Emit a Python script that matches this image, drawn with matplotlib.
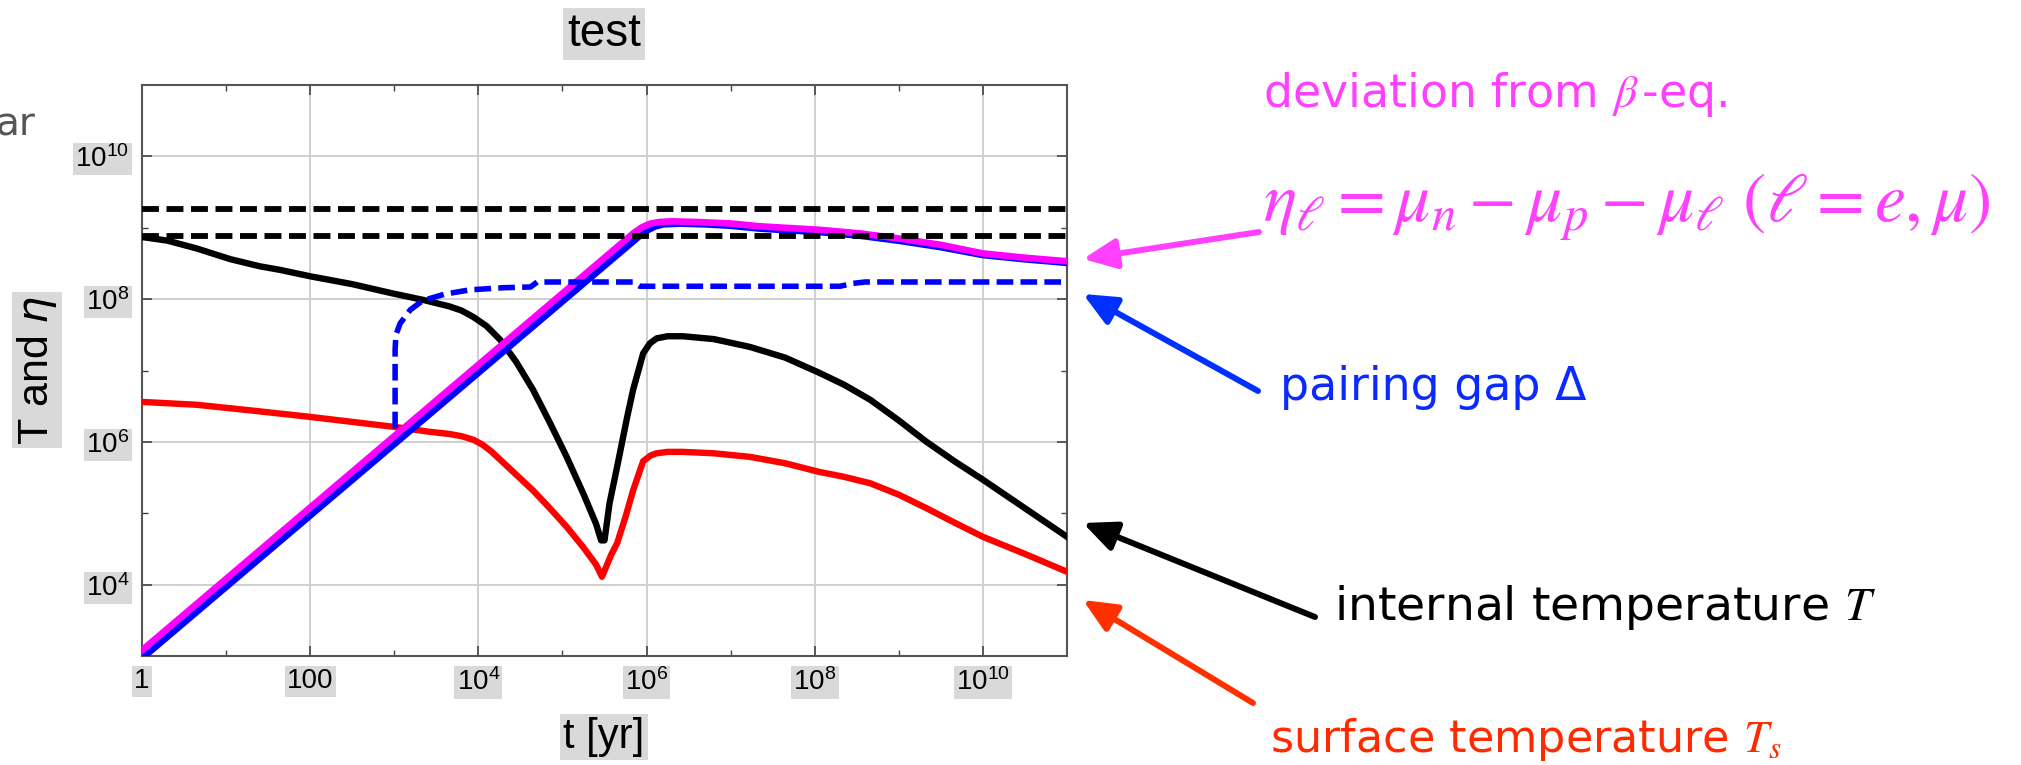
import matplotlib
matplotlib.use("Agg")
import matplotlib.pyplot as plt
import numpy as np

W, H = 2021, 765

# log10(t/yr) and log10(value)
logt_T = [0, 0.3, 0.65, 1.05, 1.4, 1.64, 2.0, 2.5, 2.98, 3.34, 3.65, 3.8, 3.94, 4.1, 4.26,
          4.45, 4.65, 4.85, 5.05, 5.25, 5.40, 5.46, 5.50, 5.56, 5.65, 5.77, 5.84, 5.96,
          6.04, 6.12, 6.25, 6.43, 6.8, 7.23, 7.65, 8.05, 8.35, 8.66, 9.0, 9.33, 9.66,
          10.0, 10.5, 11.0]
logT_int = [8.87, 8.82, 8.71, 8.56, 8.46, 8.41, 8.32, 8.21, 8.08, 7.99, 7.9, 7.84, 7.75, 7.62, 7.43,
            7.12, 6.73, 6.27, 5.79, 5.27, 4.85, 4.62, 4.62, 5.14, 5.65, 6.35, 6.73, 7.24,
            7.38, 7.45, 7.48, 7.48, 7.44, 7.33, 7.18, 6.97, 6.80, 6.59, 6.30, 6.0, 5.73,
            5.47, 5.07, 4.67]

logt_Ts = [0, 0.65, 1.3, 2.0, 2.5, 3.0, 3.43, 3.66, 3.8, 3.94, 4.05, 4.15, 4.26, 4.45, 4.65,
           4.85, 5.05, 5.25, 5.40, 5.47, 5.52, 5.58, 5.65, 5.75, 5.84, 5.96, 6.05, 6.12,
           6.25, 6.43, 6.8, 7.23, 7.65, 8.05, 8.35, 8.66, 9.0, 9.33, 9.66, 10.0, 10.5, 11.0]
logT_surf = [6.56, 6.52, 6.44, 6.35, 6.28, 6.21, 6.14, 6.11, 6.08, 6.03, 5.96, 5.87, 5.75, 5.54,
             5.32, 5.07, 4.81, 4.52, 4.28, 4.11, 4.25, 4.42, 4.58, 4.95, 5.32, 5.73, 5.81,
             5.84, 5.86, 5.86, 5.84, 5.79, 5.70, 5.58, 5.51, 5.42, 5.26, 5.07, 4.87, 4.67,
             4.43, 4.18]

logt_eta_e = [0, 5.85, 5.95, 6.05, 6.15, 6.3, 6.6, 7.0, 7.35, 8.07, 8.54, 9.0, 9.5, 10.0, 10.5, 11.0]
log_eta_e = [3.08, 8.93, 9.01, 9.06, 9.08, 9.09, 9.08, 9.06, 9.02, 8.97, 8.92, 8.85, 8.76, 8.64, 8.58, 8.53]

logt_eta_mu = [0, 5.9, 6.0, 6.1, 6.2, 6.4, 6.7, 7.0, 7.35, 8.07, 8.54, 9.0, 9.5, 10.0, 10.5, 11.0]
log_eta_mu = [2.97, 8.87, 8.96, 9.02, 9.05, 9.06, 9.05, 9.03, 8.99, 8.94, 8.89, 8.82, 8.73, 8.62, 8.56, 8.51]

logt_gap = [3.01, 3.01, 3.02, 3.07, 3.19, 3.34, 3.6, 3.9, 4.3, 4.62, 4.70, 5.84, 5.92,
            8.30, 8.45, 8.6, 11.0]
log_gap = [6.19, 7.3, 7.5, 7.66, 7.85, 7.98, 8.07, 8.13, 8.16, 8.17, 8.24, 8.24, 8.18,
           8.18, 8.22, 8.24, 8.24]

ref_levels = [1.85e9, 7.7e8]

xtick_pos = [1, 1e2, 1e4, 1e6, 1e8, 1e10]
xtick_lab = ["1", "100", r"$\mathdefault{10^{4}}$", r"$\mathdefault{10^{6}}$",
             r"$\mathdefault{10^{8}}$", r"$\mathdefault{10^{10}}$"]
xminor_pos = [10, 1e3, 1e5, 1e7, 1e9]
ytick_pos = [1e4, 1e6, 1e8, 1e10]
ytick_lab = [r"$\mathdefault{10^{4}}$", r"$\mathdefault{10^{6}}$",
             r"$\mathdefault{10^{8}}$", r"$\mathdefault{10^{10}}$"]
yminor_pos = [1e5, 1e7, 1e9]

GRAY_BOX = dict(boxstyle="square,pad=0.08", fc="#d9d9d9", ec="none")
TXT_FONT = ["DejaVu Sans"]

plt.rcParams["font.family"] = ["Liberation Sans", "DejaVu Sans"]

fig = plt.figure(figsize=(W / 100, H / 100), dpi=100)
ax = fig.add_axes([142 / W, 1 - 656 / H, (1067 - 142) / W, (656 - 85) / H])

p = lambda a: 10 ** np.asarray(a)
ax.plot(p(logt_Ts), p(logT_surf), color="#ff0000", lw=4.6, zorder=3)
ax.plot(p(logt_T), p(logT_int), color="black", lw=4.6, zorder=3)
ax.plot(p(logt_eta_mu), p(log_eta_mu), color="#0000ff", lw=5.0, zorder=4)
ax.plot(p(logt_eta_e), p(log_eta_e), color="#ff00ff", lw=4.8, zorder=5)
ax.plot(p(logt_gap), p(log_gap), color="#0000ff", lw=4.0, ls=(0, (3.0, 1.3)), zorder=6)
for lv in ref_levels:
    ax.axhline(lv, color="black", lw=4.2, ls=(0, (2.9, 1.3)), zorder=7)

ax.set_xscale("log")
ax.set_yscale("log")
ax.set_xlim(1, 1e11)
ax.set_ylim(1e3, 1e11)
ax.set_xticks(xtick_pos)
ax.set_xticklabels(xtick_lab)
ax.set_xticks(xminor_pos, minor=True)
ax.set_xticklabels([], minor=True)
ax.set_yticks(ytick_pos)
ax.set_yticklabels(ytick_lab)
ax.set_yticks(yminor_pos, minor=True)
ax.set_yticklabels([], minor=True)
ax.tick_params(which="both", direction="in", top=True, right=True, color="#444444")
ax.tick_params(which="major", length=7, width=1.2, labelsize=20, pad=9)
ax.tick_params(which="minor", length=4, width=1.0)
for lbl in ax.get_xticklabels() + ax.get_yticklabels():
    lbl.set_family(["Liberation Sans Narrow", "Liberation Sans"])
    lbl.set_bbox(GRAY_BOX)
ax.grid(which="major", color="#cccccc", lw=1.3)
ax.set_axisbelow(True)
for s in ax.spines.values():
    s.set_color("#555555")
    s.set_linewidth(1.5)

fig.text(604 / W, 1 - 34 / H, "test", fontsize=33, ha="center", va="center", bbox=GRAY_BOX)
fig.text(604 / W, 1 - 737 / H, "t [yr]", fontsize=30, ha="center", va="center", bbox=GRAY_BOX)
fig.text(37 / W, 1 - 370 / H, r"T and $\mathit{\eta}$", fontsize=31, rotation=90,
         ha="center", va="center", bbox=GRAY_BOX)
fig.text(-4 / W, 1 - 124 / H, "ar", fontsize=28, color="#555555", ha="left", va="center",
         family=TXT_FONT)

# annotations on the right
magenta, blue, red = "#ff40ff", "#0a2aff", "#ff2a00"
fig.text(1263 / W, 1 - 107 / H, r"deviation from $\beta\,$-eq.", fontsize=33, color=magenta,
         family=TXT_FONT, math_fontfamily="stix", va="baseline")
fig.text(1263 / W, 1 - 222 / H, r"$\eta_\ell = \mu_n - \mu_p - \mu_\ell\ (\ell = e, \mu)$",
         fontsize=50, color=magenta, math_fontfamily="stix", va="baseline")
fig.text(1280 / W, 1 - 400 / H, "pairing gap Δ", fontsize=33, color=blue, family=TXT_FONT,
         va="baseline")
fig.text(1334 / W, 1 - 620 / H, r"internal temperature $T$", fontsize=34, color="black",
         family=TXT_FONT, math_fontfamily="stix", va="baseline")
fig.text(1270 / W, 1 - 752 / H, r"surface temperature $T_s$", fontsize=32, color=red,
         family=TXT_FONT, math_fontfamily="stix", va="baseline")

arrows = [((1259, 232), (1083, 259), magenta),
          ((1258, 391), (1083, 294), "#0030ff"),
          ((1315, 617), (1083, 523), "black"),
          ((1253, 703), (1083, 600), "#ff3000")]
for (x0, y0), (x1, y1), c in arrows:
    ax.annotate("", xy=(x1, H - y1), xycoords="figure pixels", xytext=(x0, H - y0),
                textcoords="figure pixels", annotation_clip=False,
                arrowprops=dict(arrowstyle="-|>,head_length=1.0,head_width=0.45", color=c,
                                lw=4.3, mutation_scale=20, shrinkA=0, shrinkB=0))

fig.savefig("out.png", dpi=100)
